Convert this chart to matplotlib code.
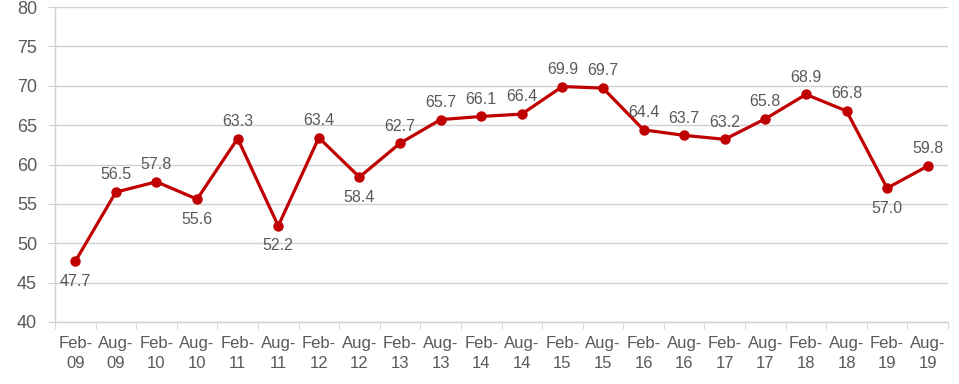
import matplotlib
matplotlib.use('Agg')
from matplotlib import pyplot as plt
import numpy as np

plt.rcParams['font.family'] = ['Liberation Sans', 'DejaVu Sans']

# Data
periods = ['Feb-\n09', 'Aug-\n09', 'Feb-\n10', 'Aug-\n10', 'Feb-\n11', 'Aug-\n11',
           'Feb-\n12', 'Aug-\n12', 'Feb-\n13', 'Aug-\n13', 'Feb-\n14', 'Aug-\n14',
           'Feb-\n15', 'Aug-\n15', 'Feb-\n16', 'Aug-\n16', 'Feb-\n17', 'Aug-\n17',
           'Feb-\n18', 'Aug-\n18', 'Feb-\n19', 'Aug-\n19']
values = [47.7, 56.5, 57.8, 55.6, 63.3, 52.2, 63.4, 58.4, 62.7, 65.7, 66.1,
          66.4, 69.9, 69.7, 64.4, 63.7, 63.2, 65.8, 68.9, 66.8, 57.0, 59.8]
below = [0, 3, 5, 7, 20]  # labels placed under the point

red = '#C00000'
grey = '#595959'
gridc = '#D0D0D0'

my_dpi = 100
fig = plt.figure(figsize=(959 / my_dpi, 384 / my_dpi), dpi=my_dpi)
ax = fig.add_axes([55 / 959, 1 - 322 / 384, (948 - 55) / 959, (322 - 7) / 384])

x = np.arange(len(values))
ax.plot(x, values, color=red, lw=2.3, marker='o', ms=6.5, zorder=3)

for i, v in enumerate(values):
    if i in below:
        ax.annotate('%.1f' % v, (i, v), xytext=(0, -9), textcoords='offset points',
                    ha='center', va='top', fontsize=11.5, color=grey)
    else:
        ax.annotate('%.1f' % v, (i, v), xytext=(0, 7), textcoords='offset points',
                    ha='center', va='bottom', fontsize=11.5, color=grey)

ax.set_xlim(-0.5, len(values) - 0.5)
ax.set_ylim(40, 80)
ax.set_yticks(np.arange(40, 81, 5))
ax.grid(axis='y', color=gridc, lw=1)
ax.set_axisbelow(True)

# Category labels centred, tick marks between categories
ax.set_xticks(x)
ax.set_xticklabels(periods, fontsize=12, color=grey, linespacing=1.45)
ax.set_xticks(np.arange(-0.5, len(values), 1), minor=True)
ax.tick_params(axis='x', which='major', length=0, pad=10)
ax.tick_params(axis='x', which='minor', length=5, color=gridc, direction='out')
ax.tick_params(axis='y', length=5, color=gridc, labelsize=13, labelcolor=grey, pad=8)

for s in ['top', 'right']:
    ax.spines[s].set_visible(False)
for s in ['left', 'bottom']:
    ax.spines[s].set_color(gridc)
    ax.spines[s].set_linewidth(1)

plt.savefig('out.png', dpi=my_dpi)
plt.close()
